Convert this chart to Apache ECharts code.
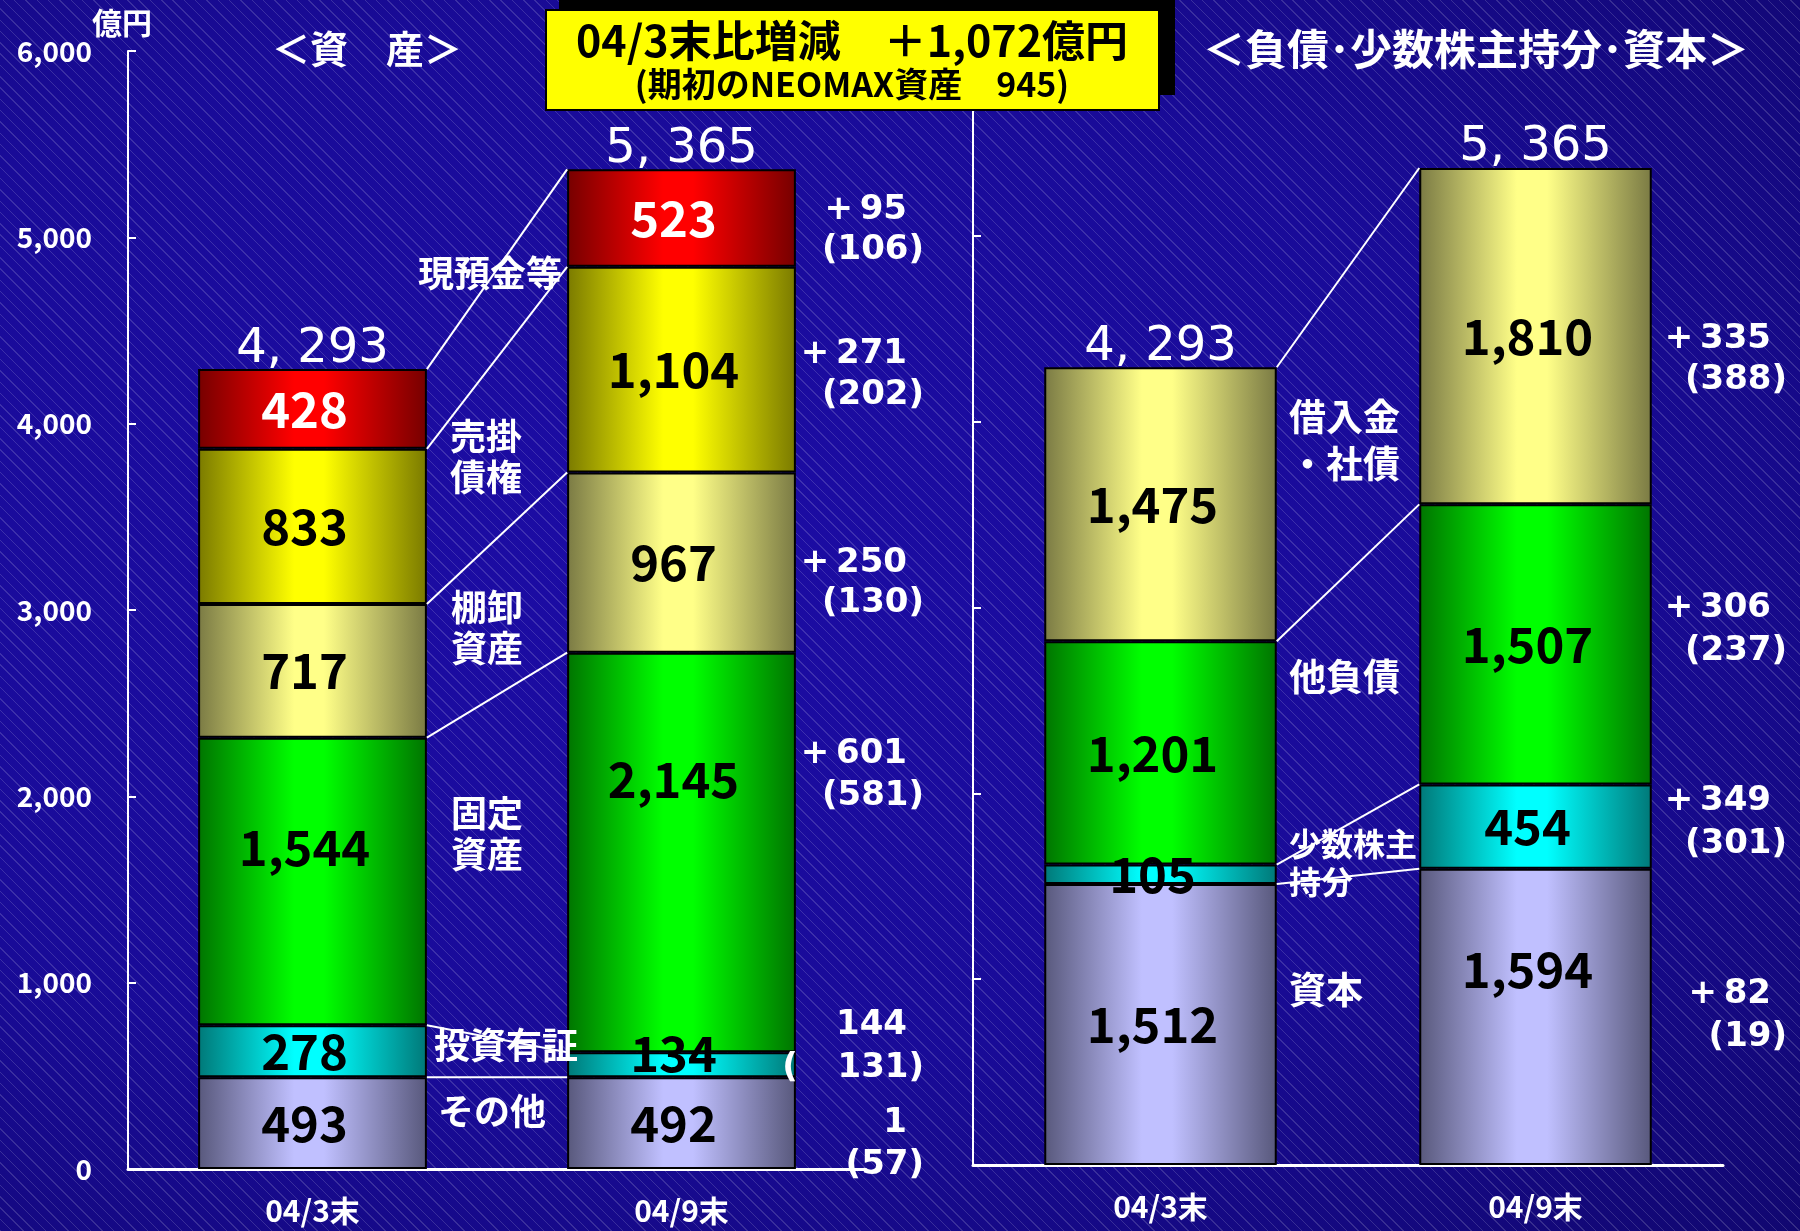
<!DOCTYPE html>
<html>
<head>
<meta charset="utf-8">
<title>資産・負債比較</title>
<script src="https://cdn.jsdelivr.net/npm/echarts@6/dist/echarts.min.js"></script>
<style>
    html, body { margin: 0; padding: 0; }
    body {
        width: 1800px;
        height: 1231px;
        overflow: hidden;
        background-color: #170b92;
        background-image:
            repeating-linear-gradient(45deg, rgba(255,255,255,0.15) 0px, rgba(255,255,255,0.15) 1px, transparent 1px, transparent 8px),
            radial-gradient(ellipse at 35% 45%, #1c0ca4 0%, #190b98 55%, #110770 100%);
    }
    #main { width: 1800px; height: 1231px; }
</style>
</head>
<body>
<div id="main"></div>
<script>
    var categories = ['04/3末', '04/9末'];
    var yTickLabels = ['0', '1,000', '2,000', '3,000', '4,000', '5,000', '6,000'];

    // 資産（下から積み上げ順）
    var assetNames = ['その他', '投資有証', '固定資産', '棚卸資産', '売掛債権', '現預金等'];
    var assetMar = [493, 278, 1544, 717, 833, 428];
    var assetSep = [492, 134, 2145, 967, 1104, 523];
    var assetChange = [['1', '(57)'], ['144', '131)'], ['+\u2009601', '(581)'], ['+\u2009250', '(130)'], ['+\u2009271', '(202)'], ['+\u200995', '(106)']];

    // 負債・少数株主持分・資本（下から積み上げ順）
    var liabNames = ['資本', '少数株主持分', '他負債', '借入金・社債'];
    var liabMar = [1512, 105, 1201, 1475];
    var liabSep = [1594, 454, 1507, 1810];
    var liabChange = [['+\u200982', '(19)'], ['+\u2009349', '(301)'], ['+\u2009306', '(237)'], ['+\u2009335', '(388)']];

    var JP = "'Noto Sans CJK JP', sans-serif";
    var WIDE = "'DejaVu Sans', sans-serif";

    // 色 (暗, 明)
    var palette = {
        lav: ['#58587c', '#c0c0ff'],
        cyan: ['#007878', '#00ffff'],
        green: ['#007400', '#00ff00'],
        tan: ['#7a7a44', '#ffff88'],
        yellow: ['#7a7a00', '#ffff00'],
        red: ['#760000', '#ff0000']
    };
    var assetColors = ['lav', 'cyan', 'green', 'tan', 'yellow', 'red'];
    var liabColors = ['lav', 'cyan', 'green', 'tan'];

    // 数値ラベルを上にずらす量 (px) : "grid-系列-カテゴリ"
    var labelLift = {'0-2-0': 34, '0-2-1': 73, '0-1-1': 11, '1-0-1': 48};

    function grad(key) {
        var c = palette[key];
        return new echarts.graphic.LinearGradient(0, 0, 1, 0, [
            {offset: 0, color: c[0]},
            {offset: 0.42, color: c[1]},
            {offset: 0.55, color: c[1]},
            {offset: 1, color: c[0]}
        ]);
    }

    function comma(v, sep) {
        return String(v).replace(/\B(?=(\d{3})+(?!\d))/g, sep);
    }

    function sum(arr) {
        return arr.reduce(function (a, b) { return a + b; }, 0);
    }

    function cumulative(arr) {
        var s = 0;
        return arr.map(function (v) { s += v; return s; });
    }

    function barSeries(names, mar, sep, colors, xi) {
        return names.map(function (n, i) {
            var items = [mar[i], sep[i]].map(function (v, c) {
                var lift = labelLift[xi + '-' + i + '-' + c] || 0;
                return {value: v, label: {offset: [-8, -lift]}};
            });
            return {
                name: n,
                type: 'bar',
                stack: 'st' + xi,
                xAxisIndex: xi,
                yAxisIndex: xi,
                barWidth: '62%',
                data: items,
                itemStyle: {color: grad(colors[i]), borderColor: '#000', borderWidth: 2},
                label: {
                    show: true,
                    position: 'inside',
                    formatter: function (p) { return comma(p.value, ','); },
                    color: colors[i] === 'red' ? '#fff' : '#000',
                    fontSize: 49,
                    fontWeight: 'bold',
                    fontFamily: JP
                }
            };
        });
    }

    // 積み上げ境界を結ぶ線
    function connectorSeries(xi, mar, sep) {
        var c1 = cumulative(mar), c2 = cumulative(sep);
        return {
            type: 'custom',
            xAxisIndex: xi,
            yAxisIndex: xi,
            silent: true,
            z: 5,
            data: c1.map(function (v, i) { return [0, v, c2[i]]; }),
            encode: {x: 0, y: [1, 2]},
            renderItem: function (params, api) {
                var half = api.size([1, 0])[0] * 0.31;
                var p1 = api.coord([0, api.value(1)]);
                var p2 = api.coord([1, api.value(2)]);
                return {
                    type: 'line',
                    shape: {x1: p1[0] + half, y1: p1[1], x2: p2[0] - half, y2: p2[1]},
                    style: {stroke: '#fff', lineWidth: 2}
                };
            }
        };
    }

    function totalSeries(xi, mar, sep) {
        return {
            type: 'scatter',
            xAxisIndex: xi,
            yAxisIndex: xi,
            symbolSize: 0,
            silent: true,
            itemStyle: {opacity: 1, color: 'transparent'},
            data: [sum(mar), sum(sep)],
            label: {
                show: true,
                position: 'top',
                distance: -4,
                formatter: function (p) { return comma(p.value, ', '); },
                color: '#fff',
                fontSize: 48,
                fontWeight: 500,
                fontFamily: WIDE
            }
        };
    }

    function xAxisOf(gi) {
        return {
            gridIndex: gi,
            type: 'category',
            data: categories,
            axisLine: {lineStyle: {color: '#fff', width: 3}},
            axisTick: {inside: true, length: 8, lineStyle: {color: '#fff', width: 2}},
            axisLabel: {color: '#fff', fontSize: 30, fontWeight: 'bold', fontFamily: JP, margin: 27}
        };
    }

    function yAxisOf(gi, showLabel) {
        return {
            gridIndex: gi,
            type: 'value',
            min: 0,
            max: 6000,
            interval: 1000,
            name: showLabel ? '億円' : '',
            nameGap: 12,
            nameTextStyle: {color: '#fff', fontSize: 30, fontWeight: 'bold', fontFamily: JP, padding: [0, 12, 0, 0]},
            axisLine: {show: true, lineStyle: {color: '#fff', width: 2}},
            axisTick: {show: true, inside: true, length: 8, lineStyle: {color: '#fff', width: 2}},
            splitLine: {show: false},
            axisLabel: {
                show: showLabel,
                color: '#fff',
                fontSize: 28,
                fontWeight: 'bold',
                fontFamily: JP,
                margin: 36,
                formatter: function (v) { return yTickLabels[v / 1000]; }
            }
        };
    }

    function txt(text, x, y, size, opts) {
        opts = opts || {};
        return {
            type: 'text',
            x: x,
            y: y,
            z: 10,
            silent: true,
            style: {
                text: text,
                fill: opts.fill || '#fff',
                fontSize: size,
                fontWeight: 'bold',
                fontFamily: opts.font || JP,
                align: opts.align || 'center',
                verticalAlign: 'middle',
                lineHeight: opts.lineHeight
            }
        };
    }

    // 増減ラベル（行ごとの y）
    var assetChangeY = [[1123, 1165], [1025, 1068], [754, 796], [563, 603], [354, 395], [210, 250]];
    var liabChangeY = [[994, 1037], [801, 844], [608, 651], [339, 380]];

    function changeTexts(list, ys, xr1, xr2) {
        var out = [];
        list.forEach(function (pair, i) {
            out.push(txt(pair[0], xr1, ys[i][0], 34, {align: 'right', font: WIDE}));
            out.push(txt(pair[1], xr2, ys[i][1], 34, {align: 'right', font: WIDE}));
        });
        return out;
    }

    var graphics = [
        // 見出し
        txt('＜資　産＞', 367, 49, 38),
        txt('＜負債･少数株主持分･資本＞', 1476, 49, 42),
        // 増減ボックス
        {type: 'rect', z: 9, shape: {x: 559, y: 0, width: 616, height: 95}, style: {fill: '#000'}},
        {type: 'rect', z: 9, shape: {x: 546, y: 10, width: 613, height: 100}, style: {fill: '#ffff00', stroke: '#000', lineWidth: 2}},
        txt('04/3末比増減　＋1,072億円', 852, 41, 43, {fill: '#000'}),
        txt('(期初のNEOMAX資産　945)', 852, 84, 34, {fill: '#000'}),
        // 資産の項目名
        txt('現預金等', 490, 273, 36),
        txt('売掛\n債権', 450, 457, 36, {align: 'left', lineHeight: 41}),
        txt('棚卸\n資産', 451, 628, 36, {align: 'left', lineHeight: 41}),
        txt('固定\n資産', 451, 834, 36, {align: 'left', lineHeight: 41}),
        txt('投資有証', 434, 1045, 36, {align: 'left'}),
        txt('その他', 438, 1111, 36, {align: 'left'}),
        // 負債側の項目名
        txt('借入金\n・社債', 1289, 440, 37, {align: 'left', lineHeight: 47}),
        txt('他負債', 1289, 677, 37, {align: 'left'}),
        txt('少数株主\n持分', 1289, 863, 32, {align: 'left', lineHeight: 38}),
        txt('資本', 1289, 990, 37, {align: 'left'}),
        txt('(', 790, 1068, 34, {font: WIDE})
    ].concat(changeTexts(assetChange, assetChangeY, 907, 924))
     .concat(changeTexts(liabChange, liabChangeY, 1771, 1787));

    var myChart = echarts.init(document.getElementById('main'));
    var option = {
        backgroundColor: 'transparent',
        animation: false,
        grid: [
            {left: 128, top: 51, width: 738, height: 1118},
            {left: 973, top: 50, width: 750, height: 1115}
        ],
        xAxis: [xAxisOf(0), xAxisOf(1)],
        yAxis: [yAxisOf(0, true), yAxisOf(1, false)],
        series: barSeries(assetNames, assetMar, assetSep, assetColors, 0)
            .concat(barSeries(liabNames, liabMar, liabSep, liabColors, 1))
            .concat([
                connectorSeries(0, assetMar, assetSep),
                connectorSeries(1, liabMar, liabSep),
                totalSeries(0, assetMar, assetSep),
                totalSeries(1, liabMar, liabSep)
            ]),
        graphic: graphics
    };
    myChart.setOption(option);
</script>
</body>
</html>
